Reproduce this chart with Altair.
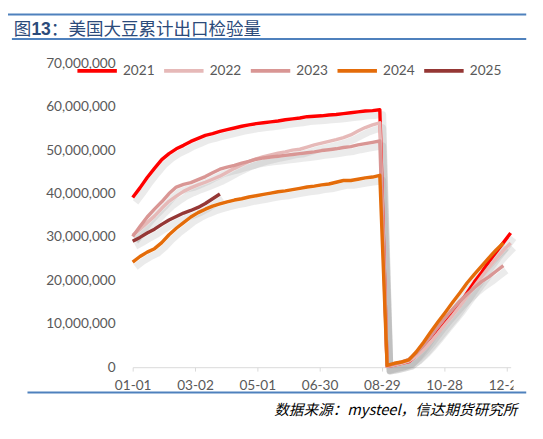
import altair as alt
import pandas as pd

YEARS = ["2021", "2022", "2023", "2024", "2025"]
COLORS = ["#ff0000", "#e6b9b8", "#d99694", "#e46c0a", "#953735"]

DAYS_PRE = [0, 7, 14, 21, 28, 35, 42, 49, 56, 63, 70, 77, 84, 91, 98, 105, 112, 119,
            126, 133, 140, 147, 154, 161, 168, 175, 182, 189, 196, 203, 210, 217, 224, 231, 238]
DAYS_POST = [245, 252, 259, 266, 273, 280, 287, 294, 301, 308, 315, 322, 329, 336, 343, 350, 357, 364]

# cumulative inspections, million tonnes
V2021_PRE = [39.1, 41.3, 43.7, 45.8, 47.8, 49.2, 50.3, 51.1, 52.0, 52.7, 53.4, 53.8, 54.3, 54.7, 55.1,
             55.5, 55.8, 56.1, 56.3, 56.5, 56.7, 57.0, 57.2, 57.4, 57.7, 57.8, 57.9, 58.1, 58.2, 58.4,
             58.6, 58.8, 59.0, 59.1, 59.3]
V2021_POST = [0.2, 0.5, 0.9, 1.3, 2.6, 4.3, 6.2, 8.2, 10.3, 12.3, 14.6, 17.1, 19.6, 21.8, 24.3, 26.5, 28.7, 30.9]

V2022_PRE = [30.4, 31.8, 33.3, 34.8, 36.6, 38.2, 39.4, 40.5, 41.3, 42.0, 42.6, 43.3, 44.0, 44.9, 45.8,
             46.6, 47.4, 48.0, 48.5, 48.9, 49.3, 49.6, 50.0, 50.2, 50.7, 51.2, 51.6, 52.0, 52.4, 52.9,
             53.5, 54.4, 55.2, 55.8, 56.3]
V2022_POST = [0.2, 0.5, 0.9, 1.4, 2.5, 4.0, 5.8, 7.8, 9.9, 11.9, 14.0, 16.3, 18.6, 20.8, 23.0, 25.0, 26.9, 28.6]

V2023_PRE = [30.1, 32.4, 34.6, 36.4, 38.1, 40.0, 41.5, 42.1, 42.5, 43.2, 43.9, 44.8, 45.6, 46.1, 46.5,
             47.0, 47.4, 47.9, 48.2, 48.4, 48.6, 48.8, 49.0, 49.2, 49.4, 49.6, 49.9, 50.1, 50.3, 50.6,
             50.8, 51.2, 51.5, 51.8, 52.1]
V2023_POST = [0.3, 0.7, 1.2, 1.8, 3.2, 5.0, 7.1, 9.3, 11.4, 13.3, 15.2, 16.8, 18.3, 19.7, 20.8, 22.1, 23.4]

V2024_PRE = [24.2, 25.5, 26.5, 27.3, 28.7, 30.5, 32.0, 33.3, 34.6, 35.6, 36.4, 37.1, 37.6, 38.1, 38.5,
             38.8, 39.2, 39.5, 39.8, 40.1, 40.4, 40.6, 40.9, 41.2, 41.5, 41.7, 42.0, 42.2, 42.6, 43.0,
             43.0, 43.3, 43.6, 43.8, 44.2]
V2024_POST = [0.4, 0.9, 1.2, 1.7, 3.5, 5.7, 8.1, 10.4, 12.6, 14.9, 17.1, 19.4, 21.4, 23.3, 25.2, 27.0, 28.6]

V2025_PRE = [29.0, 29.9, 30.9, 31.8, 32.9, 33.9, 34.7, 35.5, 36.1, 36.8, 37.7, 38.8, 39.9]

TICK_DAYS = [0, 60, 120, 180, 240, 300, 360]
TICK_LABELS = ["01-01", "03-02", "05-01", "06-30", "08-29", "10-28", "12-27"]
Y_TICKS = [0, 10000000, 20000000, 30000000, 40000000, 50000000, 60000000, 70000000]

TITLE_A = "图"
TITLE_B = "13"
TITLE_C = "：美国大豆累计出口检验量"
SOURCE = "数据来源：mysteel，信达期货研究所"

rows = []
def add(year, days, vals):
    for d, v in zip(days, vals):
        rows.append({"year": year, "day": d, "value": v * 1e6})

add("2021", DAYS_PRE, V2021_PRE); add("2021", DAYS_POST, V2021_POST)
add("2022", DAYS_PRE, V2022_PRE); add("2022", DAYS_POST, V2022_POST)
add("2023", DAYS_PRE, V2023_PRE); add("2023", DAYS_POST, V2023_POST)
add("2024", DAYS_PRE, V2024_PRE); add("2024", DAYS_POST, V2024_POST)
add("2025", DAYS_PRE, V2025_PRE)
df = pd.DataFrame(rows)

label_arr = "[" + ",".join("'%s'" % s for s in TICK_LABELS) + "]"
label_expr = "%s[round(datum.value/%d)]" % (label_arr, TICK_DAYS[1])

FONT = "Lato"
GREY = "#595959"

x = alt.X("day:Q", scale=alt.Scale(domain=[0, 364], nice=False, zero=False),
          axis=alt.Axis(values=TICK_DAYS, labelExpr=label_expr, title=None, grid=False,
                        domainColor="#d9d9d9", domainWidth=1, tickColor="#d9d9d9", tickSize=4,
                        labelFlush=False, labelFont=FONT, labelFontSize=14, labelColor=GREY,
                        labelPadding=8))
y = alt.Y("value:Q", scale=alt.Scale(domain=[0, 70000000], nice=False),
          axis=alt.Axis(values=Y_TICKS, format=",d", title=None, grid=False, domain=False,
                        ticks=False, tickSize=0, labelPadding=18,
                        labelFont=FONT, labelFontSize=14, labelColor=GREY))

base = alt.Chart(df)
shadow = base.mark_line(color="#808080", opacity=0.16, strokeWidth=7, xOffset=3, yOffset=5,
                        strokeJoin="round").encode(x=x, y=y, detail="year:N")
lines = base.mark_line(strokeWidth=3.5, strokeJoin="round").encode(
    x=x, y=y,
    color=alt.Color("year:N", scale=alt.Scale(domain=YEARS, range=COLORS),
                    legend=alt.Legend(orient="none", legendX=-59, legendY=-15, direction="horizontal",
                                      title=None, symbolType="stroke", symbolSize=1640,
                                      symbolStrokeWidth=4, labelFont=FONT, labelFontSize=14,
                                      labelColor=GREY, labelOffset=4, columnPadding=1)))

one = pd.DataFrame({"k": [0]})
BLUE = "#4f81bd"
rule_top = alt.Chart(one).mark_rule(color=BLUE, strokeWidth=2).encode(
    x=alt.value(-128), x2=alt.value(404), y=alt.value(-50))
rule_title = alt.Chart(one).mark_rule(color=BLUE, strokeWidth=2).encode(
    x=alt.value(-124), x2=alt.value(404), y=alt.value(-25))
rule_bottom = alt.Chart(one).mark_rule(color=BLUE, strokeWidth=2).encode(
    x=alt.value(-108), x2=alt.value(404), y=alt.value(338))
# the source chart image is cropped at its right edge, cutting the last tick label
crop = alt.Chart(one).mark_rect(color="white").encode(
    x=alt.value(391), x2=alt.value(410), y=alt.value(318), y2=alt.value(336))

TCOL = "#2b4a7a"
t1 = alt.Chart(one).mark_text(align="left", baseline="middle", font="Noto Sans CJK SC",
                              fontSize=18, color=TCOL).encode(
    x=alt.value(-122), y=alt.value(-34), text=alt.value(TITLE_A))
t2 = alt.Chart(one).mark_text(align="left", baseline="middle", font="Liberation Sans",
                              fontSize=18, fontWeight="bold", color=TCOL).encode(
    x=alt.value(-104), y=alt.value(-34), text=alt.value(TITLE_B))
t3 = alt.Chart(one).mark_text(align="left", baseline="middle", font="Noto Sans CJK SC",
                              fontSize=18, color=TCOL).encode(
    x=alt.value(-84), y=alt.value(-34), text=alt.value(TITLE_C))
src = alt.Chart(one).mark_text(align="right", baseline="middle", font="Noto Sans CJK SC",
                               fontSize=15, fontStyle="italic", color="#000000").encode(
    x=alt.value(395), y=alt.value(356), text=alt.value(SOURCE))

chart = alt.layer(shadow, lines, crop, rule_top, rule_title, rule_bottom, t1, t2, t3, src).properties(
    width=388, height=312,
    padding={"left": 128, "top": 51, "right": 25, "bottom": 70},
    autosize=alt.AutoSizeParams(type="none"),
    background="white",
).configure_view(stroke=None)

chart.save("out.html", embed_options={"renderer": "svg", "actions": False})
